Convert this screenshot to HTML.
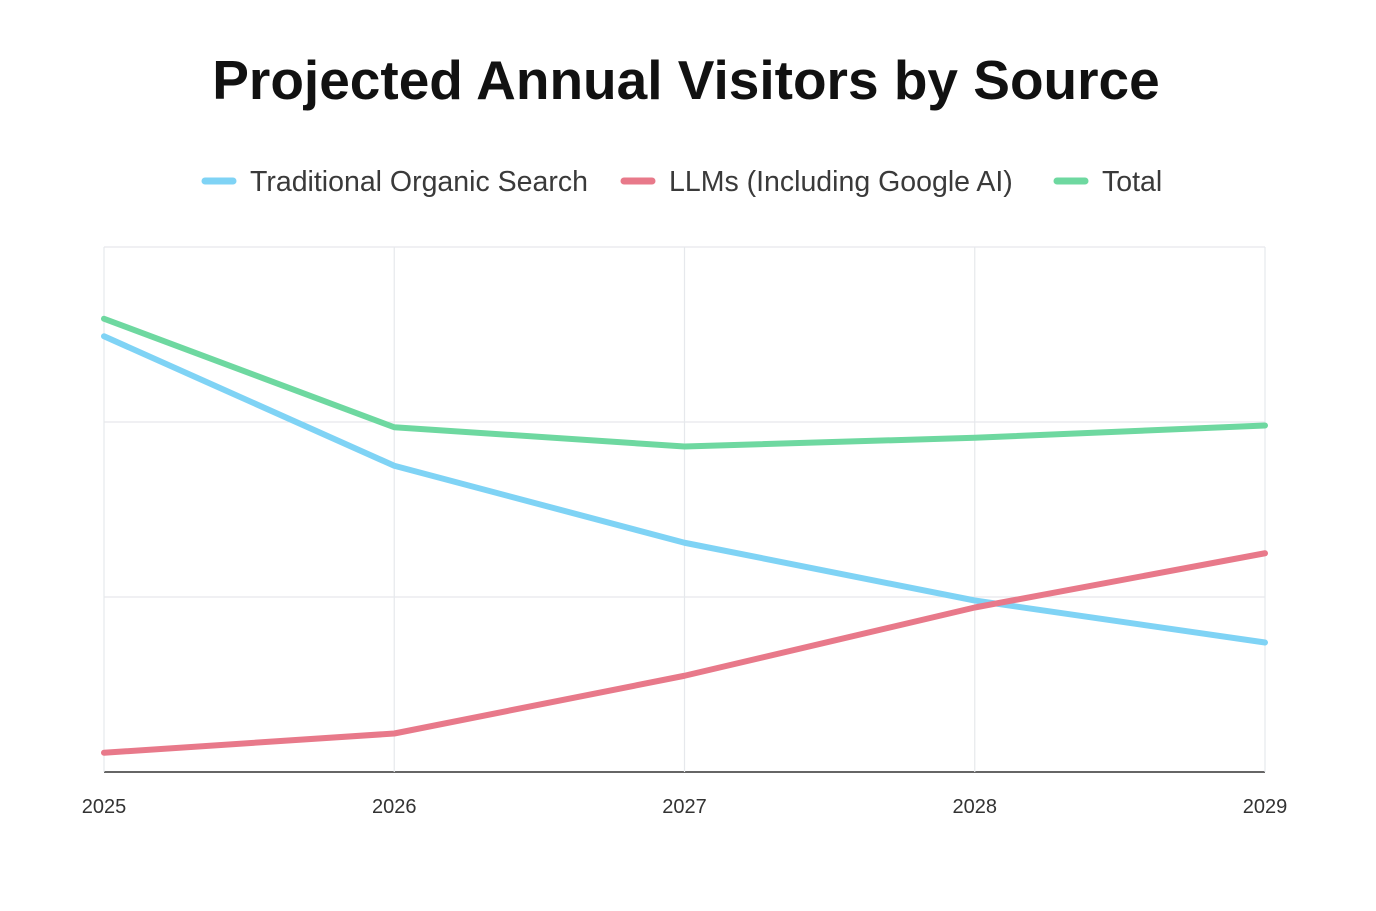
<!DOCTYPE html>
<html><head><meta charset="utf-8"><style>
body{margin:0;background:#fff;width:1376px;height:906px;overflow:hidden;font-family:"Liberation Sans",sans-serif;}
</style></head><body>
<svg id="chart" width="1376" height="906" xmlns="http://www.w3.org/2000/svg">
<text x="686" y="99" text-anchor="middle" font-size="55" font-weight="bold" fill="#111" font-family="Liberation Sans, sans-serif">Projected Annual Visitors by Source</text>
<g id="legend" font-size="28.5" fill="#3a3a3a" font-family="Liberation Sans, sans-serif"></g>
<g id="grid"></g>
<g id="xlabels" font-size="20" fill="#333" font-family="Liberation Sans, sans-serif"></g>
<g id="series"></g>
</svg>
<script>
const categories = ["2025","2026","2027","2028","2029"];
const traditional = [2.49, 1.75, 1.31, 0.98, 0.74];
const llms = [0.11, 0.22, 0.55, 0.94, 1.25];
const total = [2.59, 1.97, 1.86, 1.91, 1.98];
const yTicks = [0, 1, 2, 3];
const seriesNames = ["Traditional Organic Search", "LLMs (Including Google AI)", "Total"];

const NS = "http://www.w3.org/2000/svg";
const x0 = 104, x1 = 1265, yBot = 772, yTop = 247, yMax = 3;
function xs(i){ return x0 + i*(x1-x0)/(categories.length-1); }
function ys(v){ return yBot - v*(yBot-yTop)/yMax; }
function mk(tag, attrs, parent){ const e=document.createElementNS(NS,tag); for(const k in attrs) e.setAttribute(k,attrs[k]); parent.appendChild(e); return e; }

const grid = document.getElementById('grid');
yTicks.forEach(t=>{
  const l = mk('line',{x1:x0,x2:x1,y1:ys(t),y2:ys(t),stroke: t===0?'#333':'#e6e8ec','stroke-width':t===0?1.5:1.2},grid);
  
  
});
categories.forEach((c,i)=>{
  const l = mk('line',{x1:xs(i),x2:xs(i),y1:yTop,y2:yBot,stroke:'#e6e8ec','stroke-width':1.2},grid);
  
  
  const t = mk('text',{x:xs(i),y:813,'text-anchor':'middle'},document.getElementById('xlabels'));
  t.textContent = c;
  
  
});
const colors = ["#7fd3f5","#e8798a","#6ed8a0"];
const data = [traditional, llms, total];
data.forEach((arr,k)=>{
  const p = mk('polyline',{points:arr.map((v,i)=>xs(i)+','+ys(v)).join(' '),fill:'none',stroke:colors[k],'stroke-width':6,'stroke-linejoin':'round','stroke-linecap':'round'},document.getElementById('series'));
  
  
});
const legend = document.getElementById('legend');
const lx = [205, 624, 1057];
seriesNames.forEach((n,k)=>{
  const sw = mk('line',{x1:lx[k],x2:lx[k]+28,y1:181,y2:181,stroke:colors[k],'stroke-width':7,'stroke-linecap':'round'},legend);
  
  
  const t = mk('text',{x:lx[k]+45,y:191},legend);
  t.textContent = n;
  
  
});
</script>
</body></html>
